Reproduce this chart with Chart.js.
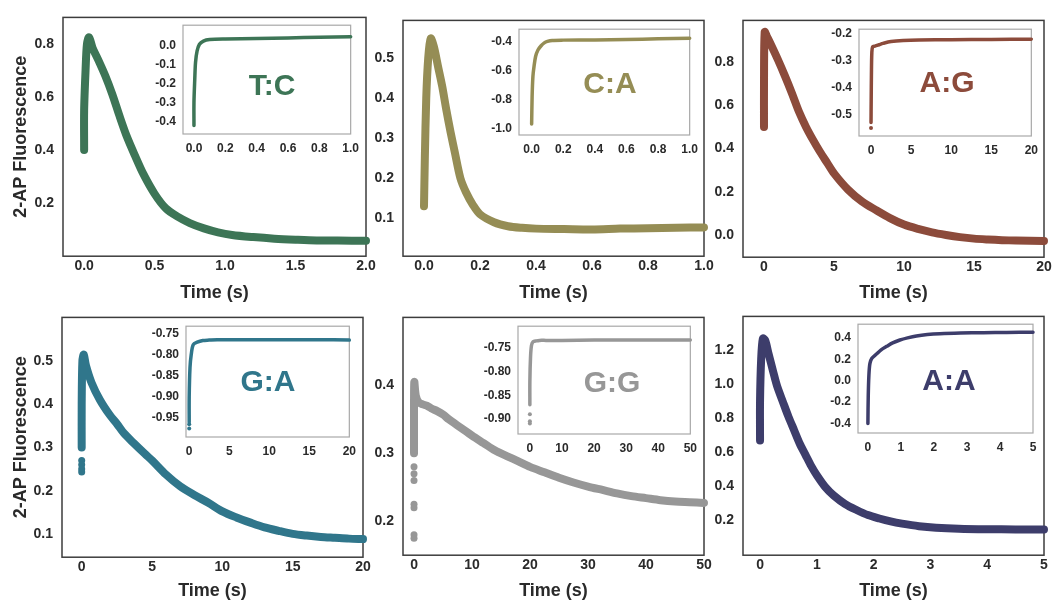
<!DOCTYPE html>
<html>
<head>
<meta charset="utf-8">
<script src="https://cdn.jsdelivr.net/npm/chart.js@4.4.1/dist/chart.umd.min.js"></script>
<style>
  body { margin: 0; background: #fff; width: 1052px; height: 601px; overflow: hidden; position: relative;
         font-family: Arial, 'Liberation Sans', sans-serif; }
  canvas { position: absolute; }
  .tag { position: absolute; font-weight: bold; font-size: 30px; line-height: 1; transform: translate(-50%, -50%); white-space: nowrap; }
</style>
</head>
<body>
<script>
// ---- data ----
// T:C
const tcTime  = [0, 0, 0.01, 0.02, 0.035, 0.06, 0.10, 0.15, 0.20, 0.25, 0.30, 0.36, 0.42, 0.50, 0.58, 0.66, 0.75, 0.85, 0.95, 1.05, 1.2, 1.35, 1.5, 1.65, 1.8, 2.0];
const tcFluor = [0.40, 0.55, 0.70, 0.80, 0.825, 0.785, 0.74, 0.68, 0.61, 0.53, 0.455, 0.38, 0.31, 0.235, 0.18, 0.15, 0.125, 0.105, 0.09, 0.08, 0.072, 0.066, 0.062, 0.059, 0.059, 0.058];
const tcInsetTime  = [0, 0, 0.005, 0.01, 0.02, 0.035, 0.06, 0.1, 0.2, 0.4, 0.6, 0.8, 1.0];
const tcInsetFluor = [-0.42, -0.3, -0.18, -0.09, -0.03, 0.005, 0.022, 0.03, 0.033, 0.035, 0.038, 0.042, 0.044];

// C:A
const caTime  = [0, 0.003, 0.008, 0.015, 0.024, 0.035, 0.05, 0.065, 0.08, 0.095, 0.11, 0.13, 0.15, 0.175, 0.2, 0.25, 0.3, 0.35, 0.4, 0.5, 0.6, 0.7, 0.8, 0.9, 1.0];
const caFluor = [0.13, 0.25, 0.40, 0.50, 0.55, 0.53, 0.48, 0.43, 0.37, 0.315, 0.265, 0.20, 0.165, 0.133, 0.11, 0.09, 0.08, 0.076, 0.074, 0.073, 0.072, 0.074, 0.075, 0.076, 0.077];
const caInsetTime  = [0, 0.003, 0.008, 0.015, 0.025, 0.04, 0.06, 0.08, 0.1, 0.13, 0.2, 0.4, 0.6, 0.8, 1.0];
const caInsetFluor = [-0.97, -0.78, -0.64, -0.57, -0.50, -0.455, -0.425, -0.405, -0.395, -0.388, -0.386, -0.385, -0.382, -0.377, -0.373];

// A:G
const agTime  = [0, 0, 0.05, 0.2, 0.5, 1.0, 1.5, 2.0, 2.5, 3.0, 3.5, 4.0, 4.5, 5.0, 6.0, 7.0, 8.0, 9.0, 10, 11, 12, 13, 14, 15, 16, 17, 18, 20];
const agFluor = [0.50, 0.70, 0.94, 0.92, 0.88, 0.81, 0.735, 0.655, 0.57, 0.50, 0.44, 0.385, 0.335, 0.285, 0.21, 0.155, 0.115, 0.078, 0.048, 0.028, 0.012, 0.0, -0.01, -0.017, -0.021, -0.024, -0.026, -0.028];
const agInsetTime  = [0, 0.02, 0.05, 0.1, 0.2, 0.5, 1.0, 1.5, 2.5, 4, 6, 10, 15, 20];
const agInsetFluor = [-0.53, -0.45, -0.35, -0.27, -0.247, -0.245, -0.24, -0.235, -0.228, -0.224, -0.222, -0.221, -0.22, -0.219];
const agInsetDotTime  = [0];
const agInsetDotFluor = [-0.55];

// G:A
const gaTime  = [0, 0, 0.05, 0.15, 0.3, 0.7, 1.3, 2.0, 2.5, 3.0, 3.7, 4.5, 5.0, 6.0, 7.0, 8.0, 9.0, 10, 11, 12, 13, 14, 15, 16, 17, 18, 19, 20];
const gaFluor = [0.30, 0.40, 0.50, 0.515, 0.49, 0.45, 0.41, 0.375, 0.355, 0.333, 0.31, 0.285, 0.27, 0.237, 0.21, 0.19, 0.172, 0.152, 0.138, 0.126, 0.115, 0.107, 0.100, 0.096, 0.093, 0.091, 0.089, 0.088];
const gaDotTime  = [0, 0, 0, 0];
const gaDotFluor = [0.27, 0.26, 0.25, 0.243];
const gaInsetTime  = [0, 0, 0.1, 0.25, 0.5, 1.0, 1.7, 2.5, 3.5, 5, 8, 12, 16, 20];
const gaInsetFluor = [-0.96, -0.9, -0.83, -0.8, -0.776, -0.77, -0.766, -0.765, -0.764, -0.764, -0.764, -0.764, -0.764, -0.765];
const gaInsetDotTime  = [0, 0];
const gaInsetDotFluor = [-0.975, -0.965];

// G:G
const ggTime  = [0, 0, 0.05, 0.3, 0.8, 1.5, 2.2, 3.0, 4.0, 5.0, 6.0, 8.0, 10, 12, 14, 16, 18, 20, 22.5, 25, 27.5, 30, 32.5, 35, 37.5, 40, 42.5, 45, 47.5, 50];
const ggFluor = [0.30, 0.36, 0.405, 0.385, 0.375, 0.372, 0.37, 0.366, 0.362, 0.357, 0.35, 0.338, 0.326, 0.315, 0.304, 0.296, 0.288, 0.28, 0.272, 0.264, 0.257, 0.251, 0.246, 0.241, 0.237, 0.234, 0.231, 0.229, 0.228, 0.227];
const ggDotTime  = [0, 0, 0, 0, 0, 0, 0];
const ggDotFluor = [0.28, 0.27, 0.26, 0.225, 0.22, 0.18, 0.175];
const ggInsetTime  = [0, 0, 0.2, 0.5, 1.0, 2, 3, 5, 10, 20, 30, 40, 50];
const ggInsetFluor = [-0.87, -0.82, -0.77, -0.745, -0.737, -0.735, -0.734, -0.734, -0.734, -0.733, -0.733, -0.733, -0.733];
const ggInsetDotTime  = [0, 0, 0];
const ggInsetDotFluor = [-0.89, -0.905, -0.91];

// A:A
const aaTime  = [0, 0, 0.02, 0.05, 0.09, 0.15, 0.235, 0.3, 0.41, 0.5, 0.6, 0.7, 0.8, 0.9, 1.0, 1.15, 1.3, 1.5, 1.7, 1.9, 2.1, 2.3, 2.5, 2.8, 3.1, 3.5, 4.0, 4.5, 5.0];
const aaFluor = [0.67, 0.9, 1.15, 1.27, 1.26, 1.18, 1.07, 0.99, 0.89, 0.81, 0.73, 0.65, 0.585, 0.52, 0.465, 0.395, 0.345, 0.295, 0.26, 0.23, 0.21, 0.193, 0.18, 0.165, 0.156, 0.15, 0.147, 0.146, 0.145];
const aaInsetTime  = [0, 0.01, 0.03, 0.06, 0.12, 0.26, 0.4, 0.57, 0.75, 0.97, 1.2, 1.47, 1.8, 2.18, 2.8, 3.5, 4.2, 5.0];
const aaInsetFluor = [-0.40, -0.15, 0.05, 0.16, 0.21, 0.25, 0.29, 0.323, 0.355, 0.382, 0.402, 0.42, 0.433, 0.441, 0.447, 0.45, 0.452, 0.455];

// tick values
const xTicksTC = [0, 0.5, 1.0, 1.5, 2.0], yTicksTC = [0.2, 0.4, 0.6, 0.8];
const xTicksCA = [0, 0.2, 0.4, 0.6, 0.8, 1.0], yTicksCA = [0.1, 0.2, 0.3, 0.4, 0.5];
const xTicksAG = [0, 5, 10, 15, 20], yTicksAG = [0, 0.2, 0.4, 0.6, 0.8];
const xTicksGA = [0, 5, 10, 15, 20], yTicksGA = [0.1, 0.2, 0.3, 0.4, 0.5];
const xTicksGG = [0, 10, 20, 30, 40, 50], yTicksGG = [0.2, 0.3, 0.4];
const xTicksAA = [0, 1, 2, 3, 4, 5], yTicksAA = [0.2, 0.4, 0.6, 0.8, 1.0, 1.2];
const insetYTicksTC = [0.0, -0.1, -0.2, -0.3, -0.4];
const insetYTicksCA = [-1.0, -0.8, -0.6, -0.4];
const insetYTicksAG = [-0.5, -0.4, -0.3, -0.2];
const insetYTicksGA = [-0.95, -0.90, -0.85, -0.80, -0.75];
const insetYTicksGG = [-0.90, -0.85, -0.80, -0.75];
const insetYTicksAA = [-0.4, -0.2, 0.0, 0.2, 0.4];

const FONT = "Arial, 'Liberation Sans', sans-serif";
const INK = '#2a2a2a';

const pts = (xs, ys) => xs.map((x, i) => ({ x: x, y: ys[i] }));

// box around plot area (all four sides)
const framePlugin = {
  id: 'frame',
  beforeDatasetsDraw(chart, args, opts) {
    const a = chart.chartArea, c = chart.ctx;
    c.save();
    if (opts.fill) { c.fillStyle = opts.fill; c.fillRect(a.left, a.top, a.width, a.height); }
    c.strokeStyle = opts.color; c.lineWidth = opts.width;
    c.strokeRect(a.left, a.top, a.right - a.left, a.bottom - a.top);
    c.restore();
  }
};

function axis(min, max, ticks, dec, size, pad, width, height) {
  return {
    type: 'linear', min: min, max: max,
    grid: { display: false, drawTicks: false }, border: { display: false },
    afterBuildTicks: s => { s.ticks = ticks.map(v => ({ value: v })); },
    afterFit: s => { if (width) s.width = width; if (height) s.height = height; },
    ticks: { autoSkip: false, maxRotation: 0, padding: pad, color: INK,
             font: { family: FONT, size: size, weight: 'bold' },
             callback: v => Number(v).toFixed(dec) }
  };
}

// p: box [L,T,R,B], xr/yr [min,max], ticks, decimals, data, colour...
function plot(p) {
  const [L, T, R, B] = p.box;
  const inset = !!p.inset;
  const padT = inset ? 8 : 10, padR = inset ? 12 : 16;
  const yW = inset ? 46 : (p.yTitle ? L : 52);
  const xH = inset ? 26 : p.titleY + 10.8 - B;
  const cv = document.createElement('canvas');
  cv.width = yW + (R - L) + padR;
  cv.height = Math.round(padT + (B - T) + xH);
  cv.style.left = (L - yW) + 'px';
  cv.style.top = (T - padT) + 'px';
  document.body.appendChild(cv);

  const xs = axis(p.xr[0], p.xr[1], p.xt, p.xd, inset ? 12 : 14, inset ? 7 : 2, 0, xH);
  const ys = axis(p.yr[0], p.yr[1], p.yt, p.yd, inset ? 12 : 14, inset ? 7 : 9, yW, 0);
  if (!inset) {
    xs.title = { display: true, text: 'Time (s)', color: INK, padding: 0,
                 font: { family: FONT, size: 18, weight: 'bold' } };
  }
  if (p.yTitle) {
    ys.title = { display: true, text: '2-AP Fluorescence', color: INK, padding: { top: 10, bottom: 0 },
                 font: { family: FONT, size: 18, weight: 'bold' } };
  }

  const datasets = [{
    data: pts(p.t, p.f), showLine: true, borderColor: p.color, backgroundColor: p.color,
    borderWidth: inset ? 3.5 : 8, pointRadius: 0, tension: 0.3,
    borderCapStyle: 'round', borderJoinStyle: 'round', clip: false
  }];
  if (p.dt) {
    datasets.push({ data: pts(p.dt, p.df), showLine: false, pointRadius: inset ? 2 : 3.5,
                    backgroundColor: p.color, borderWidth: 0, clip: false });
  }

  new Chart(cv, {
    type: 'scatter',
    data: { datasets: datasets },
    options: {
      responsive: false, animation: false, events: [],
      layout: { padding: { top: padT, right: padR, left: 0, bottom: 0 } },
      scales: { x: xs, y: ys },
      plugins: {
        legend: { display: false }, tooltip: { enabled: false },
        frame: inset ? { color: '#a8a8a8', width: 1.2, fill: '#fff' } : { color: '#3c3c3c', width: 1.5 }
      }
    },
    plugins: [framePlugin]
  });

  if (p.tag) {
    const d = document.createElement('div');
    d.className = 'tag'; d.textContent = p.tag; d.style.color = p.color;
    d.style.left = p.tagAt[0] + 'px'; d.style.top = p.tagAt[1] + 'px';
    document.body.appendChild(d);
  }
}

// main panels
plot({ box: [63, 10, 366, 256], xr: [-0.15, 2.0], yr: [0, 0.9], xt: xTicksTC, yt: yTicksTC, xd: 1, yd: 1,
       t: tcTime, f: tcFluor, color: '#3d7556', yTitle: true, titleY: 293 });
plot({ box: [403, 13, 704, 256], xr: [-0.075, 1.0], yr: [0.005, 0.595], xt: xTicksCA, yt: yTicksCA, xd: 1, yd: 1,
       t: caTime, f: caFluor, color: '#958d55', titleY: 293 });
plot({ box: [743, 13, 1044, 257], xr: [-1.5, 20], yr: [-0.103, 0.993], xt: xTicksAG, yt: yTicksAG, xd: 0, yd: 1,
       t: agTime, f: agFluor, color: '#8c4b3b', titleY: 293 });
plot({ box: [62, 310, 363, 557], xr: [-1.4, 20], yr: [0.046, 0.601], xt: xTicksGA, yt: yTicksGA, xd: 0, yd: 1,
       t: gaTime, f: gaFluor, dt: gaDotTime, df: gaDotFluor, color: '#30768b', yTitle: true, titleY: 591 });
plot({ box: [403, 310, 704, 555], xr: [-1.9, 50], yr: [0.15, 0.5], xt: xTicksGG, yt: yTicksGG, xd: 0, yd: 1,
       t: ggTime, f: ggFluor, dt: ggDotTime, df: ggDotFluor, color: '#979797', titleY: 591 });
plot({ box: [743, 309, 1044, 555], xr: [-0.3, 5], yr: [-0.006, 1.4], xt: xTicksAA, yt: yTicksAA, xd: 0, yd: 1,
       t: aaTime, f: aaFluor, color: '#3d3d6b', titleY: 591 });

// insets
plot({ inset: true, box: [183, 19, 354, 134], xr: [-0.07, 1.0], yr: [-0.465, 0.105], xt: xTicksCA, yt: insetYTicksTC, xd: 1, yd: 1,
       t: tcInsetTime, f: tcInsetFluor, color: '#3d7556', tag: 'T:C', tagAt: [272, 85] });
plot({ inset: true, box: [519, 23, 693, 135], xr: [-0.08, 1.0], yr: [-1.046, -0.31], xt: xTicksCA, yt: insetYTicksCA, xd: 1, yd: 1,
       t: caInsetTime, f: caInsetFluor, color: '#958d55', tag: 'C:A', tagAt: [610, 83] });
plot({ inset: true, box: [859, 23, 1033, 136], xr: [-1.5, 20], yr: [-0.58, -0.182], xt: xTicksAG, yt: insetYTicksAG, xd: 0, yd: 1,
       t: agInsetTime, f: agInsetFluor, dt: agInsetDotTime, df: agInsetDotFluor, color: '#8c4b3b', tag: 'A:G', tagAt: [947, 82] });
plot({ inset: true, box: [186, 320, 351, 437], xr: [-0.4, 20], yr: [-0.995, -0.732], xt: xTicksGA, yt: insetYTicksGA, xd: 0, yd: 2,
       t: gaInsetTime, f: gaInsetFluor, dt: gaInsetDotTime, df: gaInsetDotFluor, color: '#30768b', tag: 'G:A', tagAt: [268, 381] });
plot({ inset: true, box: [518, 320, 692, 434], xr: [-3.7, 50], yr: [-0.932, -0.704], xt: xTicksGG, yt: insetYTicksGG, xd: 0, yd: 2,
       t: ggInsetTime, f: ggInsetFluor, dt: ggInsetDotTime, df: ggInsetDotFluor, color: '#979797', tag: 'G:G', tagAt: [612, 382] });
plot({ inset: true, box: [858, 318, 1033, 433], xr: [-0.3, 5], yr: [-0.49, 0.53], xt: xTicksAA, yt: insetYTicksAA, xd: 0, yd: 1,
       t: aaInsetTime, f: aaInsetFluor, color: '#3d3d6b', tag: 'A:A', tagAt: [949, 380] });
</script>
</body>
</html>
